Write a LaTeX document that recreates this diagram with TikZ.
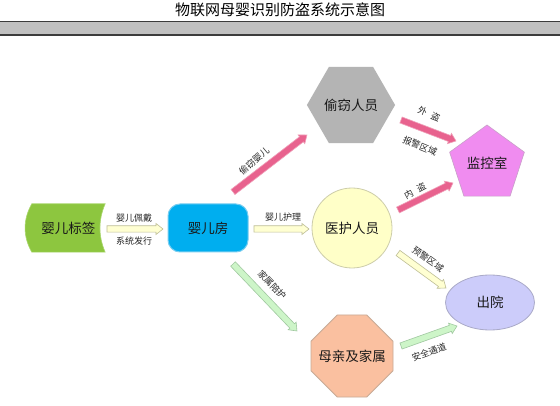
\documentclass[tikz,border=0pt]{standalone}
\usepackage{fontspec}
\setmainfont{Noto Sans CJK SC}
\usetikzlibrary{shapes.geometric,shapes.misc,calc}
\pgfdeclarelayer{background}
\pgfsetlayers{background,main}
\definecolor{headgray}{RGB}{192,192,192}
\definecolor{headline}{RGB}{60,60,60}
\definecolor{tagGreen}{RGB}{141,198,63}
\definecolor{tagGreenB}{RGB}{170,215,110}
\definecolor{roomBlue}{RGB}{0,174,239}
\definecolor{roomBlueB}{RGB}{120,205,240}
\definecolor{thiefGray}{RGB}{180,180,180}
\definecolor{monViolet}{RGB}{240,140,240}
\definecolor{monVioletB}{RGB}{200,160,200}
\definecolor{nurseYel}{RGB}{255,255,200}
\definecolor{nurseYelB}{RGB}{205,205,170}
\definecolor{exitLav}{RGB}{204,204,250}
\definecolor{exitLavB}{RGB}{170,170,200}
\definecolor{momPeach}{RGB}{250,192,160}
\definecolor{momPeachB}{RGB}{200,170,150}
\definecolor{arPink}{RGB}{232,98,142}
\definecolor{arPinkB}{RGB}{240,160,185}
\definecolor{arYel}{RGB}{255,255,210}
\definecolor{arYelB}{RGB}{190,190,150}
\definecolor{arGreen}{RGB}{205,245,200}
\definecolor{arGreenB}{RGB}{160,200,160}
\newcommand\blockarrow[3]{%
  \path let \p1=(#1), \p2=(#2),
    \n1={atan2(\y2-\y1,\x2-\x1)}, \n2={veclen(\x2-\x1,\y2-\y1)} in
    \pgfextra{\xdef\bax{\x1}\xdef\bay{\y1}\xdef\baang{\n1}\xdef\balen{\n2}};
  \begin{scope}[shift={(\bax,\bay)}, rotate=\baang]
    \path[#3] (0pt,-3.2pt) -- ({\balen-7pt},-3.2pt) -- ({\balen-7pt},-5.5pt)
      -- (\balen,0pt) -- ({\balen-7pt},5.5pt) -- ({\balen-7pt},3.2pt)
      -- (0pt,3.2pt) -- cycle;
  \end{scope}}
\begin{document}
\begin{tikzpicture}[x=1pt,y=-1pt,
  big/.style={font=\fontsize{13.5}{16}\selectfont, text=black!90, inner sep=0pt},
  lbl/.style={font=\fontsize{9}{11}\selectfont, text=black!85, inner sep=0pt},
  pinkar/.style={fill=arPink, draw=arPinkB, line width=0.6pt},
  yelar/.style={fill=arYel, draw=arYelB, line width=0.6pt},
  greenar/.style={fill=arGreen, draw=arGreenB, line width=0.6pt}]
\useasboundingbox (0,0) rectangle (560,406);
\begin{pgfonlayer}{background}
\fill[white] (0,0) rectangle (560,406);
\end{pgfonlayer}
% header
\fill[headgray] (0,21) rectangle (560,34);
\draw[headline, line width=0.9pt] (0,21) -- (560,21);
\draw[headline, line width=2pt] (0,34.6) -- (560,34.6);
\node[font=\fontsize{15}{17}\selectfont, inner sep=0pt] (title) at (280,10) {物联网母婴识别防盗系统示意图};
% nodes
\node[big, minimum width=73pt, minimum height=48pt] (tag) at (68.5,228) {婴儿标签};
\begin{pgfonlayer}{background}
\path[fill=tagGreen, draw=tagGreenB, line width=0.6pt] (tag.north west) -- (tag.north east)
  .. controls ($(tag.north east)+(-7,16)$) and ($(tag.south east)+(-7,-16)$) .. (tag.south east)
  -- (tag.south west)
  .. controls ($(tag.south west)+(-9,-16)$) and ($(tag.north west)+(-9,16)$) .. (tag.north west) -- cycle;
\end{pgfonlayer}
\node[big, rectangle, rounded corners=12pt, minimum width=80pt, minimum height=48pt,
  fill=roomBlue, draw=roomBlueB, line width=1pt] (room) at (208,228) {婴儿房};
\node[big, regular polygon, regular polygon sides=6, minimum size=84pt,
  fill=thiefGray] (thief) at (351,105) {偷窃人员};
\node[big, regular polygon, regular polygon sides=5, minimum size=78.6pt,
  fill=monViolet, draw=monVioletB, line width=0.6pt] (mon) at (487,164.3) {\raisebox{4pt}{监控室}};
\node[big, circle, minimum size=80pt, fill=nurseYel, draw=nurseYelB, line width=0.8pt] (nurse) at (352,228) {医护人员};
\node[big, ellipse, minimum width=89pt, minimum height=55pt, fill=exitLav, draw=exitLavB, line width=0.8pt] (exit) at (490,302.5) {出院};
\node[big, chamfered rectangle, chamfered rectangle xsep=18pt, chamfered rectangle ysep=20pt,
  minimum width=82pt, minimum height=82pt, fill=momPeach, draw=momPeachB, line width=0.8pt] (mom) at (352,356) {母亲及家属};
% arrow end points
\coordinate (a1s) at (107,229); \coordinate (a1e) at (163,229);
\coordinate (a2s) at (254,229); \coordinate (a2e) at (309,229);
\coordinate (a3s) at (233,192); \coordinate (a3e) at (307,135);
\coordinate (a4s) at (401,120); \coordinate (a4e) at (456,141);
\coordinate (a5s) at (398,210); \coordinate (a5e) at (453,183);
\coordinate (a6s) at (398,253); \coordinate (a6e) at (446,288);
\coordinate (a7s) at (233,264); \coordinate (a7e) at (297,331);
\coordinate (a8s) at (401,346); \coordinate (a8e) at (457,326);
\blockarrow{a1s}{a1e}{yelar}
\blockarrow{a2s}{a2e}{yelar}
\blockarrow{a3s}{a3e}{pinkar}
\blockarrow{a4s}{a4e}{pinkar}
\blockarrow{a5s}{a5e}{pinkar}
\blockarrow{a6s}{a6e}{yelar}
\blockarrow{a7s}{a7e}{greenar}
\blockarrow{a8s}{a8e}{greenar}
% labels
\node[lbl] (l1a) at (134,218) {婴儿佩戴};
\node[lbl] (l1b) at (134,241) {系统发行};
\node[lbl] (l2) at (283,217) {婴儿护理};
\node[lbl, rotate=40] (l3) at (254,161) {偷窃婴儿};
\node[lbl, rotate=-22] (l4a) at (429,114) {外\hspace{5pt}盗};
\node[lbl, rotate=-22] (l4b) at (420,146) {报警区域};
\node[lbl, rotate=28] (l5) at (415,191) {内\hspace{5pt}盗};
\node[lbl, rotate=-36] (l6) at (428,259) {预警区域};
\node[lbl, rotate=-46] (l7) at (272,285) {家属陪护};
\node[lbl, rotate=20] (l8) at (429,352) {安全通道};
\end{tikzpicture}
\end{document}
